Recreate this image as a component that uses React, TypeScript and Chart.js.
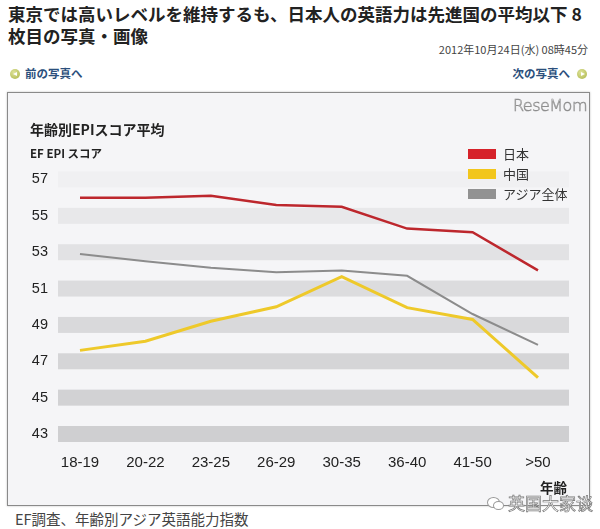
import React, { useEffect, useRef } from "react";
import { Chart, registerables } from "chart.js";

Chart.register(...registerables);

const ageGroups = ["18-19", "20-22", "23-25", "26-29", "30-35", "36-40", "41-50", ">50"];
const japan = [56.0, 56.0, 56.1, 55.6, 55.5, 54.3, 54.1, 52.0];
const china = [47.6, 48.1, 49.2, 50.0, 51.65, 49.95, 49.3, 46.1];
const asia = [52.9, 52.5, 52.15, 51.9, 52.0, 51.7, 49.6, 47.9];
const yTickValues = [57, 55, 53, 51, 49, 47, 45, 43];
const seriesNames = ["日本", "中国", "アジア全体"];

const bandColors = ["#f0f0f2", "#e8e8ea", "#e2e2e4", "#dcdcde", "#d9d9db", "#d5d5d7", "#d2d2d4", "#cfcfd1"];
const seriesColors = ["#bd272d", "#eec92a", "#8c8c8c"];
const legendColors = ["#d6222a", "#f2c61c", "#929292"];

const bandPlugin = {
  id: "bands",
  beforeDatasetsDraw(chart: any) {
    const { ctx, chartArea, scales } = chart;
    const y = scales.y;
    ctx.save();
    yTickValues.forEach((v, i) => {
      const top = y.getPixelForValue(v + 0.44);
      const bottom = y.getPixelForValue(v - 0.44);
      ctx.fillStyle = bandColors[i];
      ctx.fillRect(chartArea.left, top, chartArea.right - chartArea.left, bottom - top);
    });
    ctx.restore();
  },
};

function ChartCanvas() {
  const ref = useRef<HTMLCanvasElement | null>(null);
  useEffect(() => {
    if (!ref.current) return;
    const toPts = (arr: number[]) => arr.map((v, i) => ({ x: i, y: v }));
    const chart = new Chart(ref.current, {
      type: "line",
      data: {
        datasets: [
          { label: seriesNames[0], data: toPts(japan), borderColor: seriesColors[0], borderWidth: 2.5, pointRadius: 0, tension: 0 },
          { label: seriesNames[1], data: toPts(china), borderColor: seriesColors[1], borderWidth: 3, pointRadius: 0, tension: 0 },
          { label: seriesNames[2], data: toPts(asia), borderColor: seriesColors[2], borderWidth: 2, pointRadius: 0, tension: 0 },
        ],
      },
      options: {
        responsive: false,
        animation: false,
        devicePixelRatio: 1,
        layout: { padding: { left: 0, top: 77.4, right: 20, bottom: 0 } },
        plugins: { legend: { display: false }, tooltip: { enabled: false } },
        scales: {
          x: {
            type: "linear",
            min: -0.336,
            max: 7.474,
            afterBuildTicks: (axis: any) => {
              axis.ticks = ageGroups.map((_, i) => ({ value: i }));
            },
            afterFit: (axis: any) => {
              axis.height = 61.9;
            },
            ticks: {
              autoSkip: false,
              maxRotation: 0,
              padding: 11,
              color: "#222",
              font: { family: "'Liberation Sans', Arial, sans-serif", size: 15 },
              callback: (v: any) => ageGroups[Math.round(Number(v))] ?? "",
            },
            grid: { display: false, drawTicks: false },
            border: { display: false },
          },
          y: {
            type: "linear",
            min: 42.5,
            max: 57.5,
            afterBuildTicks: (axis: any) => {
              axis.ticks = yTickValues.map((v) => ({ value: v }));
            },
            afterFit: (axis: any) => {
              axis.width = 50;
            },
            ticks: {
              padding: 10,
              color: "#222",
              font: { family: "'Liberation Sans', Arial, sans-serif", size: 14.5 },
              callback: (v: any) => String(v),
            },
            grid: { display: false, drawTicks: false },
            border: { display: false },
          },
        },
      },
      plugins: [bandPlugin],
    } as any);
    return () => chart.destroy();
  }, []);
  return <canvas ref={ref} width={581} height={412} style={{ width: 581, height: 412, display: "block" }} />;
}

const jp = "'Noto Sans CJK JP', 'Noto Sans', sans-serif";

function NavIcon({ dir }: { dir: "left" | "right" }) {
  return (
    <span
      style={{
        position: "absolute",
        width: 10,
        height: 10,
        borderRadius: 5,
        background: "radial-gradient(circle at 40% 35%, #dfe39a, #aab447)",
        display: "block",
      }}
    >
      <span
        style={{
          position: "absolute",
          top: 2.5,
          left: dir === "left" ? 2.5 : 3.5,
          width: 0,
          height: 0,
          borderTop: "2.5px solid transparent",
          borderBottom: "2.5px solid transparent",
          borderRight: dir === "left" ? "4px solid #fff" : undefined,
          borderLeft: dir === "right" ? "4px solid #fff" : undefined,
        }}
      />
    </span>
  );
}

export default function App() {
  return (
    <div style={{ position: "absolute", left: 0, top: 0, width: 600, height: 529, background: "#fff", overflow: "hidden", fontFamily: jp }}>
      <div
        style={{
          position: "absolute",
          left: 8,
          top: 3,
          fontSize: 17.5,
          fontWeight: 700,
          lineHeight: "21.5px",
          color: "#222",
          whiteSpace: "nowrap",
        }}
      >
        東京では高いレベルを維持するも、日本人の英語力は先進国の平均以下 8
        <br />
        枚目の写真・画像
      </div>
      <div style={{ position: "absolute", right: 12, top: 41, fontSize: 11, color: "#444", whiteSpace: "nowrap" }}>
        2012年10月24日(水) 08時45分
      </div>
      <div style={{ position: "absolute", left: 10, top: 69 }}>
        <NavIcon dir="left" />
      </div>
      <div style={{ position: "absolute", left: 25, top: 65, fontSize: 11.5, fontWeight: 700, color: "#2b4f7c", whiteSpace: "nowrap" }}>
        前の写真へ
      </div>
      <div style={{ position: "absolute", right: 30, top: 65, fontSize: 11.5, fontWeight: 700, color: "#2b4f7c", whiteSpace: "nowrap" }}>
        次の写真へ
      </div>
      <div style={{ position: "absolute", left: 577, top: 69 }}>
        <NavIcon dir="right" />
      </div>

      <div
        style={{
          position: "absolute",
          left: 7,
          top: 92,
          width: 581,
          height: 412,
          border: "1px solid #8a8a8a",
          background: "#f5f5f7",
          boxShadow: "0 0 2px rgba(0,0,0,0.25)",
        }}
      >
        <div style={{ position: "absolute", left: 0, top: 0 }}>
          <ChartCanvas />
        </div>
        <div style={{ position: "absolute", left: 22, top: 26, fontSize: 14, fontWeight: 700, color: "#222", whiteSpace: "nowrap" }}>
          年齢別EPIスコア平均
        </div>
        <div style={{ position: "absolute", left: 22, top: 52, fontSize: 11.5, fontWeight: 700, color: "#222", whiteSpace: "nowrap" }}>
          EF EPI スコア
        </div>
        <div
          style={{
            position: "absolute",
            right: 2,
            top: 3,
            fontSize: 16,
            fontFamily: "'DejaVu Sans', sans-serif",
            fontWeight: 300,
            color: "#f5f5f7",
            WebkitTextStroke: "0.6px #8e8e8e",
            whiteSpace: "nowrap",
            letterSpacing: -0.5,
          }}
        >
          ReseMom
        </div>
        {seriesNames.map((name, i) => (
          <div key={name} style={{ position: "absolute", left: 460, top: 54 + i * 20, height: 14, whiteSpace: "nowrap" }}>
            <span style={{ position: "absolute", left: 0, top: 2, width: 28, height: 10, background: legendColors[i] }} />
            <span style={{ position: "absolute", left: 35, top: -3, fontSize: 13, color: "#333" }}>{name}</span>
          </div>
        ))}
        <div style={{ position: "absolute", right: 22, top: 384, fontSize: 13.5, fontWeight: 700, color: "#222", whiteSpace: "nowrap" }}>
          年齢
        </div>
      </div>

      <div style={{ position: "absolute", left: 15, top: 508, fontSize: 14.5, color: "#444", whiteSpace: "nowrap" }}>
        EF調査、年齢別アジア英語能力指数
      </div>
      <div style={{ position: "absolute", left: 487, top: 496, width: 18, height: 14 }}>
        <span style={{ position: "absolute", left: 0, top: 1, width: 11, height: 9, borderRadius: "50%", border: "1px solid #999", background: "#fff" }} />
        <span style={{ position: "absolute", left: 6, top: 5, width: 9, height: 7, borderRadius: "50%", border: "1px solid #999", background: "#fff" }} />
      </div>
      <div
        style={{
          position: "absolute",
          left: 508,
          top: 490,
          fontSize: 17,
          fontFamily: "'Noto Sans CJK SC', sans-serif",
          color: "#fff",
          WebkitTextStroke: "0.7px #777",
          whiteSpace: "nowrap",
        }}
      >
        英国大家谈
      </div>
    </div>
  );
}
